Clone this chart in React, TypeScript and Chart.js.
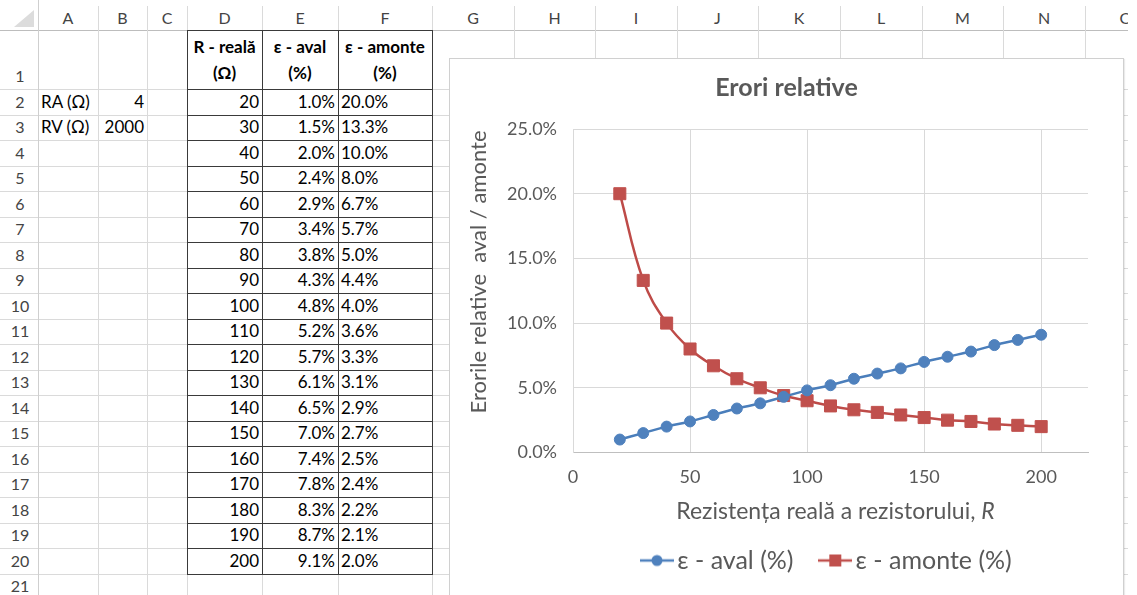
import React, { useEffect, useRef } from "react";
import { Chart, registerables } from "chart.js";

Chart.register(...registerables);

// ---------- data ----------
const resistances = [20, 30, 40, 50, 60, 70, 80, 90, 100, 110, 120, 130, 140, 150, 160, 170, 180, 190, 200];
const avalPct = [1.0, 1.5, 2.0, 2.4, 2.9, 3.4, 3.8, 4.3, 4.8, 5.2, 5.7, 6.1, 6.5, 7.0, 7.4, 7.8, 8.3, 8.7, 9.1];
const amontePct = [20.0, 13.3, 10.0, 8.0, 6.7, 5.7, 5.0, 4.4, 4.0, 3.6, 3.3, 3.1, 2.9, 2.7, 2.5, 2.4, 2.2, 2.1, 2.0];
const paramLabels = ["RA (Ω)", "RV (Ω)"];
const paramValues = ["4", "2000"];
const headerR = ["R - reală", "(Ω)"];
const headerAval = ["ε - aval", "(%)"];
const headerAmonte = ["ε - amonte", "(%)"];
const columnLetters = ["A", "B", "C", "D", "E", "F", "G", "H", "I", "J", "K", "L", "M", "N", "O"];
const chartTitle = "Erori relative";
const yAxisTitle = "Erorile relative  aval / amonte";
const xAxisTitleMain = "Rezistența reală a rezistorului, ";
const xAxisTitleItalic = "R";
const avalLabel = "ε - aval (%)";
const amonteLabel = "ε - amonte (%)";
const yMin = 0;
const yMax = 25;
const yStep = 5;
const xMin = 0;
const xMax = 220;
const xStep = 50;

// ---------- layout ----------
const FONT = "Lato, 'Open Sans', sans-serif";
const COLS = [0, 38, 98, 147, 187, 262, 338, 432, 514, 595, 677, 758, 840, 922, 1003, 1085, 1167];
const rowTop = (r: number) => (r === 0 ? 0 : r === 1 ? 30 : 89 + (r - 2) * 25.5);
const GRID = "#dadada";
const BORDER = "#3a3a3a";
const TXT = "#595959";
const CHART_W = 675;
const CHART_H = 545;

function HLine({ y, x1, x2, color }: { y: number; x1: number; x2: number; color: string }) {
  return <div style={{ position: "absolute", left: x1, top: Math.round(y), width: x2 - x1, height: 1, background: color }} />;
}
function VLine({ x, y1, y2, color }: { x: number; y1: number; y2: number; color: string }) {
  return <div style={{ position: "absolute", left: x, top: Math.round(y1), width: 1, height: Math.round(y2) - Math.round(y1), background: color }} />;
}

function Cell({ col, row, lines, align, bold }: { col: number; row: number; lines: string[]; align: "left" | "right" | "center"; bold?: boolean }) {
  const left = COLS[col + 1];
  const width = COLS[col + 2] - left;
  const top = Math.round(rowTop(row));
  const height = Math.round(rowTop(row + 1)) - top;
  return (
    <div
      style={{
        position: "absolute",
        left,
        top,
        width,
        height,
        boxSizing: "border-box",
        display: "flex",
        flexDirection: "column",
        justifyContent: "flex-end",
        alignItems: align === "left" ? "flex-start" : align === "right" ? "flex-end" : "center",
        padding: "0 3px 3px 3px",
        fontSize: 17,
        lineHeight: row === 1 ? "26px" : "20px",
        fontWeight: bold ? 700 : 400,
        color: "#000",
        whiteSpace: "nowrap",
        overflow: "visible",
      }}
    >
      {lines.map((l, i) => (
        <div key={i}>{l}</div>
      ))}
    </div>
  );
}

function makeSymbol(color: string, shape: "circle" | "rect") {
  const c = document.createElement("canvas");
  c.width = 34;
  c.height = 16;
  const g = c.getContext("2d")!;
  g.strokeStyle = color;
  g.lineWidth = 2.5;
  g.beginPath();
  g.moveTo(0, 8);
  g.lineTo(34, 8);
  g.stroke();
  g.fillStyle = color;
  if (shape === "circle") {
    g.beginPath();
    g.arc(17, 8, 5.5, 0, Math.PI * 2);
    g.fill();
  } else {
    g.fillRect(11, 2, 12, 12);
  }
  return c;
}

function ErrorChart() {
  const ref = useRef<HTMLCanvasElement | null>(null);
  useEffect(() => {
    const canvas = ref.current!;
    const symbols = [makeSymbol("#4F81BD", "circle"), makeSymbol("#C0504D", "rect")];
    const axisTitlesPlugin = {
      id: "axisTitles",
      afterDraw(chart: any) {
        const { ctx, chartArea } = chart;
        // x-axis title with italic R
        const normal = `23px ${FONT}`;
        const italic = `italic 23px ${FONT}`;
        ctx.save();
        ctx.font = normal;
        const w1 = ctx.measureText(xAxisTitleMain).width;
        ctx.font = italic;
        const w2 = ctx.measureText(xAxisTitleItalic).width;
        const cx = (chartArea.left + chartArea.right) / 2 + 5;
        const y = chartArea.bottom + 59;
        const x = cx - (w1 + w2) / 2;
        ctx.fillStyle = TXT;
        ctx.textBaseline = "middle";
        ctx.textAlign = "left";
        ctx.font = normal;
        ctx.fillText(xAxisTitleMain, x, y);
        ctx.font = italic;
        ctx.fillText(xAxisTitleItalic, x + w1, y);
        // y-axis title
        ctx.translate(30, chartArea.top + 143);
        ctx.rotate(-Math.PI / 2);
        ctx.textAlign = "center";
        ctx.font = `22px ${FONT}`;
        ctx.fillText(yAxisTitle, 0, 0);
        ctx.restore();
      },
    };
    const chart = new Chart(canvas, {
      type: "line",
      data: {
        datasets: [
          {
            label: avalLabel,
            data: resistances.map((r, i) => ({ x: r, y: avalPct[i] })),
            borderColor: "#4A7EBB",
            backgroundColor: "#4F81BD",
            pointBackgroundColor: "#4F81BD",
            pointBorderColor: "#4F81BD",
            pointStyle: "circle",
            pointRadius: 5.5,
            pointBorderWidth: 1,
            borderWidth: 2.5,
            tension: 0.4,
          },
          {
            label: amonteLabel,
            data: resistances.map((r, i) => ({ x: r, y: amontePct[i] })),
            borderColor: "#BE4B48",
            backgroundColor: "#C0504D",
            pointBackgroundColor: "#C0504D",
            pointBorderColor: "#C0504D",
            pointStyle: "rect",
            pointRadius: 8.5,
            pointBorderWidth: 1,
            borderWidth: 2.5,
            tension: 0.4,
          },
        ],
      },
      options: {
        responsive: false,
        animation: false,
        layout: { padding: { left: 0, right: 0, top: 0, bottom: 20 } },
        plugins: {
          title: {
            display: true,
            text: chartTitle,
            color: TXT,
            font: { family: FONT, size: 25, weight: "bold" },
            padding: { top: 15, bottom: 26 },
          },
          legend: {
            position: "bottom",
            fullSize: false,
            labels: {
              usePointStyle: true,
              pointStyleWidth: 15.5,
              padding: 34,
              color: TXT,
              font: { family: FONT, size: 25 },
              generateLabels: (ch: any) =>
                (Chart.defaults.plugins.legend.labels.generateLabels as any)(ch).map((l: any, i: number) => ({
                  ...l,
                  pointStyle: symbols[i],
                  fontColor: TXT,
                })),
            },
          },
          tooltip: { enabled: false },
        },
        scales: {
          x: {
            type: "linear",
            min: xMin,
            max: xMax,
            ticks: { stepSize: xStep, padding: 14, color: TXT, font: { family: FONT, size: 18 } },
            afterBuildTicks: (s: any) => {
              s.ticks = s.ticks.filter((t: any) => t.value % xStep === 0);
            },
            afterFit: (s: any) => {
              s.height = 61.5;
            },
            grid: { color: "#d9d9d9", drawTicks: false },
            border: { color: "#bfbfbf" },
          },
          y: {
            min: yMin,
            max: yMax,
            ticks: {
              stepSize: yStep,
              padding: 16,
              color: TXT,
              font: { family: FONT, size: 18 },
              callback: (v: any) => Number(v).toFixed(1) + "%",
            },
            afterFit: (s: any) => {
              s.width = 124;
            },
            grid: { color: "#d9d9d9", drawTicks: false },
            border: { color: "#d9d9d9" },
          },
          rightSpace: {
            type: "linear",
            position: "right",
            display: true,
            ticks: { display: false },
            grid: { display: false, drawOnChartArea: false, drawTicks: false },
            border: { display: false },
            afterFit: (s: any) => {
              s.width = CHART_W - 639;
            },
          },
        },
      } as any,
      plugins: [axisTitlesPlugin],
    });
    return () => chart.destroy();
  }, []);
  return <canvas ref={ref} width={CHART_W} height={CHART_H} style={{ position: "absolute", left: -1, top: -1 }} />;
}

export default function App() {
  const rows = Array.from({ length: 21 }, (_, i) => i + 1);
  const lastRowBottom = 595;
  const tableBottom = rowTop(21);
  const W = 1128;
  return (
    <div
      style={{
        position: "absolute",
        left: 0,
        top: 0,
        width: W,
        height: 595,
        overflow: "hidden",
        background: "#fff",
        fontFamily: FONT,
      }}
    >
      {/* horizontal grid lines */}
      <HLine y={30} x1={0} x2={W} color="#bdbdbd" />
      {rows.map((r) => (
        <HLine key={"h" + r} y={rowTop(r + 1)} x1={0} x2={W} color={GRID} />
      ))}
      {/* vertical grid lines */}
      {COLS.slice(1).map((x, i) => (
        <VLine key={"v" + i} x={x} y1={i === 0 ? 0 : 6} y2={lastRowBottom} color={i === 0 ? "#cfcfcf" : GRID} />
      ))}
      {/* corner triangle */}
      <div
        style={{
          position: "absolute",
          left: 14,
          top: 10,
          width: 0,
          height: 0,
          borderLeft: "20px solid transparent",
          borderBottom: "17px solid #dcdcdc",
        }}
      />
      {/* column letters */}
      {columnLetters.map((c, i) => (
        <div
          key={c}
          style={{
            position: "absolute",
            left: COLS[i + 1],
            top: 6,
            width: COLS[i + 2] - COLS[i + 1],
            height: 24,
            lineHeight: "24px",
            textAlign: "center",
            fontSize: 16,
            color: "#444",
          }}
        >
          {c}
        </div>
      ))}
      {/* row numbers */}
      {rows.map((r) => (
        <div
          key={"r" + r}
          style={{
            position: "absolute",
            left: 0,
            top: Math.round(rowTop(r)),
            width: 40,
            height: Math.round(rowTop(r + 1)) - Math.round(rowTop(r)),
            display: "flex",
            alignItems: "flex-end",
            justifyContent: "center",
            paddingBottom: 3,
            boxSizing: "border-box",
            fontSize: 16,
            lineHeight: "20px",
            color: "#444",
          }}
        >
          {r}
        </div>
      ))}
      {/* table borders D1:F20 */}
      {[3, 4, 5, 6].map((ci) => (
        <VLine key={"tb" + ci} x={COLS[ci + 1]} y1={30} y2={tableBottom + 1} color={BORDER} />
      ))}
      {Array.from({ length: 21 }, (_, i) => i + 1).map((r) => (
        <HLine key={"th" + r} y={rowTop(r)} x1={COLS[4]} x2={COLS[7] + 1} color={BORDER} />
      ))}
      {/* parameter cells */}
      {paramLabels.map((l, i) => (
        <Cell key={"pl" + i} col={0} row={i + 2} lines={[l]} align="left" />
      ))}
      {paramValues.map((v, i) => (
        <Cell key={"pv" + i} col={1} row={i + 2} lines={[v]} align="right" />
      ))}
      {/* header cells */}
      <Cell col={3} row={1} lines={headerR} align="center" bold />
      <Cell col={4} row={1} lines={headerAval} align="center" bold />
      <Cell col={5} row={1} lines={headerAmonte} align="center" bold />
      {resistances.map((r, i) => (
        <React.Fragment key={"d" + i}>
          <Cell col={3} row={i + 2} lines={[String(r)]} align="right" />
          <Cell col={4} row={i + 2} lines={[avalPct[i].toFixed(1) + "%"]} align="right" />
          <Cell col={5} row={i + 2} lines={[amontePct[i].toFixed(1) + "%"]} align="left" />
        </React.Fragment>
      ))}
      {/* chart */}
      <div
        style={{
          position: "absolute",
          left: 449,
          top: 58,
          width: CHART_W,
          height: 560,
          boxSizing: "border-box",
          border: "1px solid #d0d0d0",
          boxShadow: "1px 1px 1px rgba(0,0,0,0.08)",
          background: "#fff",
        }}
      >
        <ErrorChart />
      </div>
    </div>
  );
}
